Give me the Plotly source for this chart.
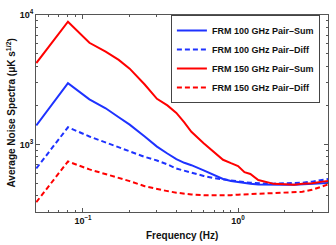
import plotly.graph_objects as go

freq = [0.05, 0.08, 0.11, 0.14, 0.17, 0.2, 0.25, 0.3, 0.35, 0.4, 0.45, 0.5, 0.6, 0.7,
        0.8, 0.9, 1.0, 1.1, 1.2, 1.35, 1.5, 1.7, 2.0, 2.3, 2.6, 3.0, 3.5, 4.0]

sum100 = [1400, 2970, 2230, 1900, 1620, 1420, 1150, 960, 850, 770, 720, 690, 630, 580,
          540, 520, 510, 500, 495, 490, 488, 487, 487, 488, 490, 495, 500, 505]
diff100 = [651, 1355, 1150, 1030, 950, 880, 800, 750, 700, 650, 625, 600, 570, 548,
           535, 525, 516, 510, 505, 500, 498, 497, 498, 500, 505, 515, 530, 545]
sum150 = [4250, 8870, 6100, 5200, 4500, 3850, 2900, 2250, 2000, 1750, 1480, 1250, 1020, 870,
          760, 715, 680, 610, 590, 530, 515, 495, 492, 488, 495, 500, 515, 525]
diff150 = [357, 738, 640, 590, 555, 520, 475, 450, 435, 423, 415, 410, 405, 403,
           402, 405, 408, 410, 413, 416, 419, 422, 424, 426, 430, 445, 470, 500]

names = ["FRM 100 GHz Pair\u2013Sum", "FRM 100 GHz Pair\u2013Diff",
         "FRM 150 GHz Pair\u2013Sum", "FRM 150 GHz Pair\u2013Diff"]

BLUE = "rgb(30,50,255)"
RED = "rgb(255,0,0)"

fig = go.Figure()
series = [(sum100, BLUE, "solid"), (diff100, BLUE, "5px,3px"),
          (sum150, RED, "solid"), (diff150, RED, "5px,3px")]
for (vals, col, dash), nm in zip(series, names):
    fig.add_trace(go.Scatter(x=freq, y=vals, mode="lines", name="<b>" + nm + "</b>",
                             line=dict(color=col, width=2, dash=dash)))

AX = "#555555"
xminor = [0.06, 0.07, 0.08, 0.09, 0.2, 0.3, 0.4, 0.5, 0.6, 0.7, 0.8, 0.9, 2, 3]
yminor = [400, 500, 600, 700, 800, 900, 2000, 3000, 4000, 5000, 6000, 7000, 8000, 9000]
TF = dict(family="Liberation Sans", size=9, color="#111", weight="bold")

fig.update_xaxes(type="log", range=[-1.303, 0.58], showline=True, mirror="allticks",
                 linecolor=AX, linewidth=1, ticks="inside", ticklen=4, tickcolor=AX,
                 tickvals=[0.1, 1], ticktext=["10<sup>\u22121</sup>", "10<sup>0</sup>"],
                 minor=dict(ticks="inside", ticklen=2, tickcolor=AX, tickvals=xminor),
                 showgrid=False, zeroline=False, tickfont=TF)
fig.update_yaxes(type="log", range=[2.477, 4.0], showline=True, mirror="allticks",
                 linecolor=AX, linewidth=1, ticks="inside", ticklen=4, tickcolor=AX,
                 tickvals=[1000, 10000], ticktext=["10<sup>3</sup>", "10<sup>4</sup>"],
                 minor=dict(ticks="inside", ticklen=2, tickcolor=AX, tickvals=yminor),
                 showgrid=False, zeroline=False, tickfont=TF)

fig.update_layout(
    width=336, height=245,
    margin=dict(l=36, r=8, t=15, b=33),
    plot_bgcolor="white", paper_bgcolor="white",
    showlegend=True,
    legend=dict(x=0.462, y=1.0, xanchor="left", yanchor="top",
                bgcolor="white", bordercolor="#444", borderwidth=1,
                font=dict(family="Liberation Sans", size=9, color="#111"),
                itemwidth=30, tracegroupgap=0),
    annotations=[
        dict(text="<b>Frequency (Hz)</b>", x=0.5, y=-0.117, xref="paper", yref="paper",
             xanchor="center", yanchor="middle", showarrow=False,
             font=dict(family="Liberation Sans", size=10, color="#111")),
        dict(text="<b>Average Noise Spectra (\u03bcK s<sup>1/2</sup>)</b>", x=-0.089, y=0.5,
             xref="paper", yref="paper", xanchor="center", yanchor="middle",
             textangle=-90, showarrow=False,
             font=dict(family="Liberation Sans", size=10, color="#111")),
    ],
)

# remove the browser's default 8px body margin so the figure sits at the page origin
fig.write_html("out.html", config={"displayModeBar": False},
               post_script="document.body.style.margin='0';")
